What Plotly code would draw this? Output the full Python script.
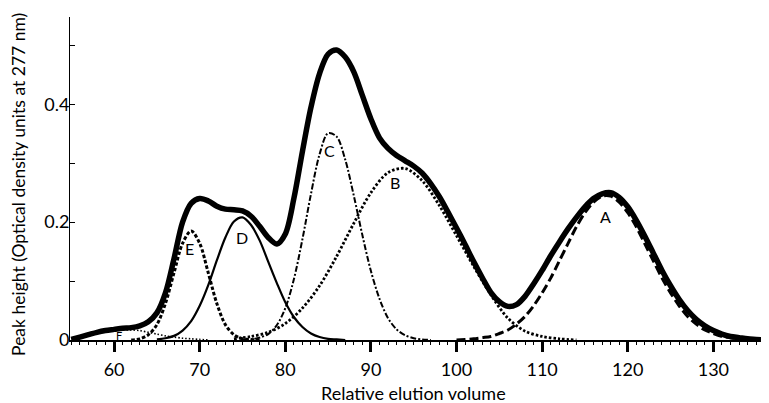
import plotly.graph_objects as go

# ---- data ----
total_x = list(range(55, 137))
total_y = [0.001, 0.005, 0.009, 0.013, 0.016, 0.018, 0.020, 0.021, 0.024, 0.031,
           0.046, 0.080, 0.138, 0.200, 0.232, 0.240, 0.236, 0.227, 0.222, 0.221,
           0.219, 0.210, 0.193, 0.174, 0.163, 0.180, 0.240, 0.320, 0.395, 0.452,
           0.485, 0.492, 0.480, 0.455, 0.415, 0.375, 0.343, 0.325, 0.313, 0.304,
           0.295, 0.283, 0.265, 0.243, 0.217, 0.190, 0.162, 0.133, 0.106, 0.081,
           0.065, 0.057, 0.060, 0.074, 0.095, 0.118, 0.143, 0.166, 0.188, 0.208,
           0.226, 0.240, 0.248, 0.250, 0.242, 0.226, 0.203, 0.176, 0.147, 0.118,
           0.092, 0.069, 0.050, 0.035, 0.024, 0.016, 0.010, 0.006, 0.004, 0.002,
           0.001, 0.000]

a_x = list(range(100, 137))
a_y = [0.000, 0.001, 0.002, 0.004, 0.006, 0.011, 0.017, 0.027, 0.040, 0.058,
       0.080, 0.105, 0.134, 0.163, 0.192, 0.216, 0.234, 0.244, 0.244, 0.234,
       0.216, 0.192, 0.163, 0.134, 0.105, 0.080, 0.058, 0.040, 0.027, 0.017,
       0.011, 0.006, 0.004, 0.002, 0.001, 0.001, 0.000]

b_x = list(range(74, 115, 2))
b_y = [0.002, 0.006, 0.013, 0.028, 0.054, 0.092, 0.142, 0.198, 0.250, 0.284,
       0.291, 0.270, 0.228, 0.177, 0.125, 0.077, 0.037, 0.015, 0.006, 0.002, 0.000]

c_x = list(range(75, 98))
c_y = [0.000, 0.001, 0.004, 0.010, 0.025, 0.054, 0.103, 0.171, 0.248, 0.315,
       0.351, 0.345, 0.306, 0.245, 0.178, 0.117, 0.070, 0.037, 0.018, 0.008,
       0.003, 0.001, 0.000]

d_x = list(range(65, 88))
d_y = [0.001, 0.003, 0.007, 0.016, 0.032, 0.058, 0.093, 0.135, 0.174, 0.201,
       0.208, 0.195, 0.169, 0.133, 0.097, 0.064, 0.039, 0.022, 0.011, 0.005,
       0.002, 0.001, 0.000]

e_x = list(range(62, 78))
e_y = [0.000, 0.002, 0.009, 0.026, 0.062, 0.114, 0.164, 0.185, 0.164, 0.114,
       0.062, 0.026, 0.009, 0.002, 0.001, 0.000]

f_x = list(range(55, 72))
f_y = [0.002, 0.005, 0.008, 0.011, 0.014, 0.016, 0.017, 0.017, 0.016, 0.013,
       0.010, 0.007, 0.005, 0.003, 0.002, 0.001, 0.000]

peak_labels = ["A", "B", "C", "D", "E", "F"]
label_x = [117.4, 92.8, 85.2, 74.9, 68.8, 60.6]
label_y = [0.209, 0.267, 0.322, 0.174, 0.155, 0.007]

x_ticks = [60, 70, 80, 90, 100, 110, 120, 130]
y_ticks = [0, 0.1, 0.2, 0.3, 0.4, 0.5]
y_ticktext = ["0", "", "0.2", "", "0.4", ""]

x_title = "Relative elution volume"
y_title = "Peak height (Optical density units at 277 nm)"

FONT = "Lato"

fig = go.Figure()

def add(x, y, width, dash):
    fig.add_trace(go.Scatter(x=x, y=y, mode="lines",
                             line=dict(color="black", width=width, dash=dash,
                                       shape="spline", smoothing=0.9),
                             hoverinfo="skip"))

add(f_x, f_y, 1.6, "1.5px,2px")
add(e_x, e_y, 3.0, "3.5px,2px")
add(d_x, d_y, 2.2, "solid")
add(c_x, c_y, 2.0, "6px,2px,2px,2px")
add(b_x, b_y, 2.8, "2.5px,2px")
add(a_x, a_y, 3.0, "9px,4px")
add(total_x, total_y, 5.5, "solid")

for t, lx, ly in zip(peak_labels, label_x, label_y):
    fig.add_annotation(x=lx, y=ly, text=t, showarrow=False,
                       font=dict(family=FONT, size=16 if t != "F" else 11, color="black"))

# axis titles as annotations so they can be placed exactly
fig.add_annotation(xref="paper", yref="paper", x=-0.074, y=0.481,
                   xanchor="center", yanchor="middle", textangle=-90,
                   text=y_title, showarrow=False,
                   font=dict(family=FONT, size=17.5, color="black"))
fig.add_annotation(xref="paper", yref="paper", x=0.491, y=-0.163,
                   xanchor="center", yanchor="middle",
                   text=x_title, showarrow=False,
                   font=dict(family=FONT, size=18, color="black"))

# page body has an 8px margin, so the figure is 8px smaller than the window
fig.update_layout(
    width=761, height=395,
    margin=dict(l=62, r=0, t=9, b=63, autoexpand=False),
    plot_bgcolor="white", paper_bgcolor="white",
    showlegend=False,
    font=dict(family=FONT, color="black"),
)

fig.update_xaxes(
    range=[54.85, 136.5], automargin=False,
    showline=True, linecolor="black", linewidth=1.5,
    showgrid=False, zeroline=False,
    tickmode="array", tickvals=x_ticks,
    ticks="outside", ticklen=10, tickwidth=2.5, tickcolor="black",
    minor=dict(tickmode="linear", tick0=55, dtick=1, ticks="outside",
               ticklen=3, tickwidth=1, tickcolor="black", showgrid=False),
    tickfont=dict(family=FONT, size=18),
    ticklabelstandoff=3,
)

fig.update_yaxes(
    range=[0, 0.548], automargin=False,
    showline=True, linecolor="black", linewidth=1,
    showgrid=False, zeroline=False,
    tickmode="array", tickvals=y_ticks, ticktext=y_ticktext,
    ticks="inside", ticklen=5, tickwidth=1, tickcolor="black",
    tickfont=dict(family=FONT, size=18),
    ticklabelstandoff=-4,
)

fig.write_html("out.html")
